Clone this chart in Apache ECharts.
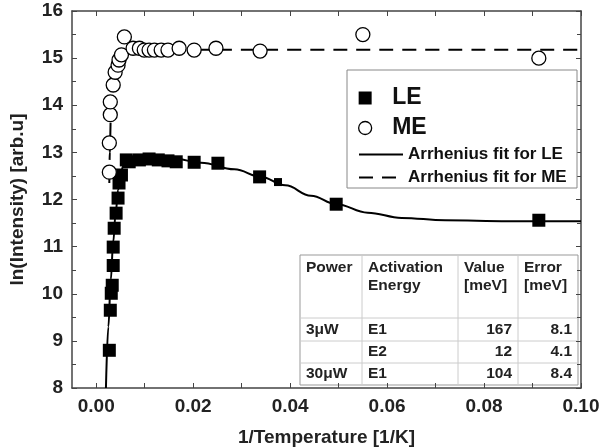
<!DOCTYPE html>
<html>
<head>
<meta charset="utf-8">
<script src="https://cdn.jsdelivr.net/npm/echarts@6/dist/echarts.min.js"></script>
<style>
html, body { margin: 0; padding: 0; background: #fff; }
#chart { width: 603px; height: 448px; }
</style>
</head>
<body>
<div id="chart"></div>
<script>
// measured points, [1/T, ln(I)]
var leData = [
    [0.0027, 8.80], [0.0029, 9.65], [0.0031, 10.01], [0.0033, 10.18],
    [0.0035, 10.60], [0.0035, 10.99], [0.0037, 11.39], [0.0041, 11.71],
    [0.0045, 12.03], [0.0047, 12.35], [0.0052, 12.52], [0.0062, 12.84],
    [0.0068, 12.80], [0.0089, 12.84], [0.0109, 12.86], [0.0128, 12.84],
    [0.0148, 12.82], [0.0165, 12.80], [0.0202, 12.79], [0.0251, 12.77],
    [0.0337, 12.48], [0.0495, 11.90], [0.0913, 11.56]
];
var leSmall = [[0.0375, 12.37]];
var meData = [
    [0.0027, 12.58], [0.0027, 13.20], [0.0029, 13.80], [0.0029, 14.07],
    [0.0035, 14.43], [0.0039, 14.70], [0.0045, 14.85], [0.0047, 14.96],
    [0.0052, 15.07], [0.0058, 15.45], [0.0076, 15.21], [0.0089, 15.21],
    [0.0099, 15.17], [0.0109, 15.17], [0.0120, 15.17], [0.0134, 15.17],
    [0.0148, 15.17], [0.0171, 15.21], [0.0202, 15.17], [0.0247, 15.21],
    [0.0338, 15.15], [0.0550, 15.50], [0.0913, 15.00]
];

// fit curves
var leFit = [
    [0.0020, 8.00], [0.0025, 9.30], [0.0030, 10.30], [0.0035, 11.10],
    [0.0040, 11.70], [0.0045, 12.20], [0.0050, 12.50], [0.0055, 12.70],
    [0.0065, 12.82], [0.0090, 12.88], [0.0120, 12.90], [0.0160, 12.87],
    [0.0216, 12.78], [0.0285, 12.64], [0.0340, 12.48], [0.0390, 12.30],
    [0.0443, 12.08], [0.0495, 11.90], [0.0560, 11.72], [0.0630, 11.61],
    [0.0720, 11.56], [0.0850, 11.54], [0.1000, 11.54]
];
var meFit = [
    [0.0027, 12.35], [0.0028, 13.00], [0.0030, 13.70], [0.0033, 14.20],
    [0.0037, 14.60], [0.0042, 14.90], [0.0048, 15.08], [0.0055, 15.15],
    [0.0070, 15.18], [0.0100, 15.18], [0.1000, 15.18]
];

var xTicks = [0, 0.01, 0.02, 0.03, 0.04, 0.05, 0.06, 0.07, 0.08, 0.09, 0.10];
var xLabels = [0, 0.02, 0.04, 0.06, 0.08, 0.10];

var tableHead = [['Power'], ['Activation', 'Energy'], ['Value', '[meV]'], ['Error', '[meV]']];
var tableRows = [
    ['3\u03bcW', 'E1', '167', '8.1'],
    ['', 'E2', '12', '4.1'],
    ['30\u03bcW', 'E1', '104', '8.4']
];

var font = "'Liberation Sans', Arial, sans-serif";

// table layout
function buildTable() {
    var colX = [300, 362, 458, 518, 578];
    var rowY = [255, 318, 341, 363, 385];
    var tf = 'bold 15.5px ' + font;
    var kids = [];
    kids.push({
        type: 'rect',
        shape: { x: colX[0], y: rowY[0], width: colX[4] - colX[0], height: rowY[4] - rowY[0] },
        style: { fill: '#fff', stroke: '#999', lineWidth: 1 }
    });
    for (var i = 1; i < 4; i++) {
        kids.push({ type: 'line', shape: { x1: colX[i], y1: rowY[0], x2: colX[i], y2: rowY[4] },
            style: { stroke: '#ccc', lineWidth: 1 } });
        kids.push({ type: 'line', shape: { x1: colX[0], y1: rowY[i], x2: colX[4], y2: rowY[i] },
            style: { stroke: '#ccc', lineWidth: 1 } });
    }
    tableHead.forEach(function (lines, c) {
        lines.forEach(function (t, k) {
            kids.push({ type: 'text', x: colX[c] + 6, y: 268 + k * 18,
                style: { text: t, font: tf, fill: '#222', verticalAlign: 'middle' } });
        });
    });
    tableRows.forEach(function (row, r) {
        var yc = (rowY[r + 1] + rowY[r + 2]) / 2;
        row.forEach(function (t, c) {
            var right = c >= 2;
            kids.push({ type: 'text', x: right ? colX[c + 1] - 6 : colX[c] + 6, y: yc,
                style: { text: t, font: tf, fill: '#222',
                    align: right ? 'right' : 'left', verticalAlign: 'middle' } });
        });
    });
    return { type: 'group', z: 10, children: kids };
}

var chart = echarts.init(document.getElementById('chart'));

var axisColor = '#444';

var option = {
    animation: false,
    grid: { left: 72, right: 22, top: 11, bottom: 60, outerBoundsMode: 'none' },
    xAxis: [
        {
            type: 'value',
            min: -0.005,
            max: 0.10,
            name: '1/Temperature [1/K]',
            nameLocation: 'middle',
            nameGap: 40,
            nameTextStyle: { fontFamily: font, fontWeight: 'bold', fontSize: 19, color: '#222' },
            axisLine: { onZero: false, lineStyle: { color: axisColor, width: 1.5 } },
            axisTick: { inside: true, length: 5, customValues: xTicks, lineStyle: { color: axisColor } },
            axisLabel: {
                customValues: xLabels, margin: 9,
                fontFamily: font, fontWeight: 'bold', fontSize: 19, color: '#222',
                formatter: function (v) { return v.toFixed(2); }
            },
            splitLine: { show: false }
        },
        {
            type: 'value',
            position: 'top',
            min: -0.005,
            max: 0.10,
            axisLine: { show: true, onZero: false, lineStyle: { color: axisColor, width: 1.5 } },
            axisTick: { inside: true, length: 5, customValues: xTicks, lineStyle: { color: axisColor } },
            axisLabel: { show: false },
            splitLine: { show: false }
        }
    ],
    yAxis: [
        {
            type: 'value',
            min: 8,
            max: 16,
            interval: 1,
            name: 'ln(Intensity) [arb.u]',
            nameLocation: 'middle',
            nameGap: 45,
            nameTextStyle: { fontFamily: font, fontWeight: 'bold', fontSize: 19, color: '#222' },
            axisLine: { show: true, onZero: false, lineStyle: { color: axisColor, width: 1.5 } },
            axisTick: { inside: true, length: 5, lineStyle: { color: axisColor } },
            minorTick: { show: true, splitNumber: 2, length: 4, lineStyle: { color: axisColor } },
            axisLabel: { margin: 9, fontFamily: font, fontWeight: 'bold', fontSize: 19, color: '#222' },
            splitLine: { show: false }
        },
        {
            type: 'value',
            position: 'right',
            min: 8,
            max: 16,
            interval: 1,
            axisLine: { show: true, onZero: false, lineStyle: { color: axisColor, width: 1.5 } },
            axisTick: { inside: true, length: 5, lineStyle: { color: axisColor } },
            minorTick: { show: true, splitNumber: 2, length: 4, lineStyle: { color: axisColor } },
            axisLabel: { show: false },
            splitLine: { show: false }
        }
    ],
    legend: [
        {
            orient: 'vertical',
            left: 353,
            top: 81,
            itemWidth: 44,
            itemHeight: 13,
            itemGap: 6,
            symbolKeepAspect: true,
            data: [
                { name: 'LE', icon: 'path://M0,0H10V10H0Z', itemStyle: { color: '#000' } },
                { name: 'ME', itemStyle: { color: '#fff', borderColor: '#000', borderWidth: 1.3 } }
            ],
            textStyle: { fontFamily: font, fontWeight: 'bold', fontSize: 23, lineHeight: 24, color: '#111' }
        },
        {
            orient: 'vertical',
            left: 353,
            top: 141,
            itemWidth: 44,
            itemHeight: 14,
            itemGap: 6,
            data: [
                { name: 'Arrhenius fit for LE', itemStyle: { color: 'rgba(0,0,0,0)', borderWidth: 0 } },
                { name: 'Arrhenius fit for ME', itemStyle: { color: 'rgba(0,0,0,0)', borderWidth: 0 } }
            ],
            textStyle: { fontFamily: font, fontWeight: 'bold', fontSize: 17, lineHeight: 17, color: '#111' }
        }
    ],
    graphic: [
        {
            type: 'rect',
            z: 1,
            shape: { x: 347, y: 70, width: 230, height: 118 },
            style: { fill: '#fff', stroke: '#888', lineWidth: 1 }
        },
        buildTable()
    ],
    series: [
        {
            name: 'Arrhenius fit for LE',
            type: 'line',
            data: leFit,
            smooth: 0.4,
            smoothMonotone: 'x',
            symbol: 'none',
            lineStyle: { color: '#000', width: 2 },
            itemStyle: { color: '#000' },
            z: 2
        },
        {
            name: 'Arrhenius fit for ME',
            type: 'line',
            data: meFit,
            smooth: 0.4,
            smoothMonotone: 'x',
            symbol: 'none',
            lineStyle: { color: '#000', width: 2, type: [14, 9] },
            itemStyle: { color: '#000' },
            z: 2
        },
        {
            name: 'LE',
            type: 'scatter',
            data: leData,
            symbol: 'rect',
            symbolSize: 13,
            itemStyle: { color: '#000', opacity: 1 },
            z: 3
        },
        {
            name: 'LE',
            type: 'scatter',
            data: leSmall,
            symbol: 'rect',
            symbolSize: 8,
            itemStyle: { color: '#000', opacity: 1 },
            z: 3
        },
        {
            name: 'ME',
            type: 'scatter',
            data: meData,
            symbol: 'circle',
            symbolSize: 14,
            itemStyle: { color: '#fff', borderColor: '#000', borderWidth: 1.3, opacity: 1 },
            z: 4
        }
    ]
};

chart.setOption(option);
window.addEventListener('resize', chart.resize);
</script>
</body>
</html>
